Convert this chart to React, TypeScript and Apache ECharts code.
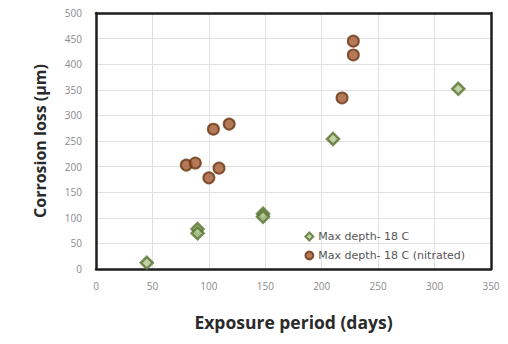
import React, { useEffect, useRef } from "react";
import * as echarts from "echarts";

const seriesNames = ["Max depth- 18 C", "Max depth- 18 C (nitrated)"];
const plainDays = [45, 90, 90, 148, 148, 210, 321];
const plainLoss = [12, 78, 70, 108, 102, 254, 352];
const nitratedDays = [228, 228, 218, 104, 118, 80, 88, 109, 100];
const nitratedLoss = [445, 418, 334, 273, 283, 203, 207, 197, 178];

export default function App() {
  const ref = useRef<HTMLDivElement>(null);
  useEffect(() => {
    if (!ref.current) return;
    const chart = echarts.init(ref.current, undefined, { renderer: "svg" });
    const font = "Open Sans";
    const frame = { show: true, onZero: false, lineStyle: { color: "#1e1e1e", width: 2.5 } };
    const hidden = {
      axisTick: { show: false },
      axisLabel: { show: false },
      splitLine: { show: false },
    };
    chart.setOption({
      animation: false,
      backgroundColor: "#ffffff",
      grid: { left: 96, right: 17, top: 13, bottom: 75 },
      legend: {
        orient: "vertical",
        right: 38,
        bottom: 78,
        itemWidth: 8,
        itemHeight: 8,
        itemGap: 8,
        textStyle: { fontFamily: "DejaVu Sans", fontSize: 11, color: "#555" },
        data: seriesNames,
      },
      xAxis: [
        {
          type: "value",
          min: 0,
          max: 350,
          interval: 50,
          name: "Exposure period (days)",
          nameLocation: "middle",
          nameGap: 44,
          nameTextStyle: { fontFamily: font, fontSize: 17.5, fontWeight: "bold", color: "#2a2a2a" },
          axisLine: frame,
          axisTick: { show: false },
          axisLabel: { fontFamily: font, fontSize: 10, color: "#8a8a8a", margin: 12 },
          splitLine: { show: true, lineStyle: { color: "#e0e0e0" } },
        },
        { type: "value", position: "top", min: 0, max: 350, interval: 50, axisLine: frame, ...hidden },
      ],
      yAxis: [
        {
          type: "value",
          min: 0,
          max: 500,
          interval: 50,
          name: "Corrosion loss (μm)",
          nameLocation: "middle",
          nameGap: 48,
          nameTextStyle: { fontFamily: font, fontSize: 16, fontWeight: "bold", color: "#2a2a2a" },
          axisLine: frame,
          axisTick: { show: false },
          axisLabel: { fontFamily: font, fontSize: 10, color: "#8a8a8a", margin: 14 },
          splitLine: { show: true, lineStyle: { color: "#e0e0e0" } },
        },
        { type: "value", position: "right", min: 0, max: 500, interval: 50, axisLine: frame, ...hidden },
      ],
      series: [
        {
          name: seriesNames[0],
          type: "scatter",
          symbol: "diamond",
          symbolSize: 12,
          itemStyle: { color: "#b3c690", borderColor: "#55722f", borderWidth: 2.5 },
          data: plainDays.map((d, i) => [d, plainLoss[i]]),
        },
        {
          name: seriesNames[1],
          type: "scatter",
          symbol: "circle",
          symbolSize: 11,
          itemStyle: { color: "#a0582e", borderColor: "#6a3512", borderWidth: 2 },
          data: nitratedDays.map((d, i) => [d, nitratedLoss[i]]),
        },
      ],
    });
    return () => chart.dispose();
  }, []);
  return <div ref={ref} style={{ width: 508, height: 344, position: "absolute", left: 0, top: 0 }} />;
}
